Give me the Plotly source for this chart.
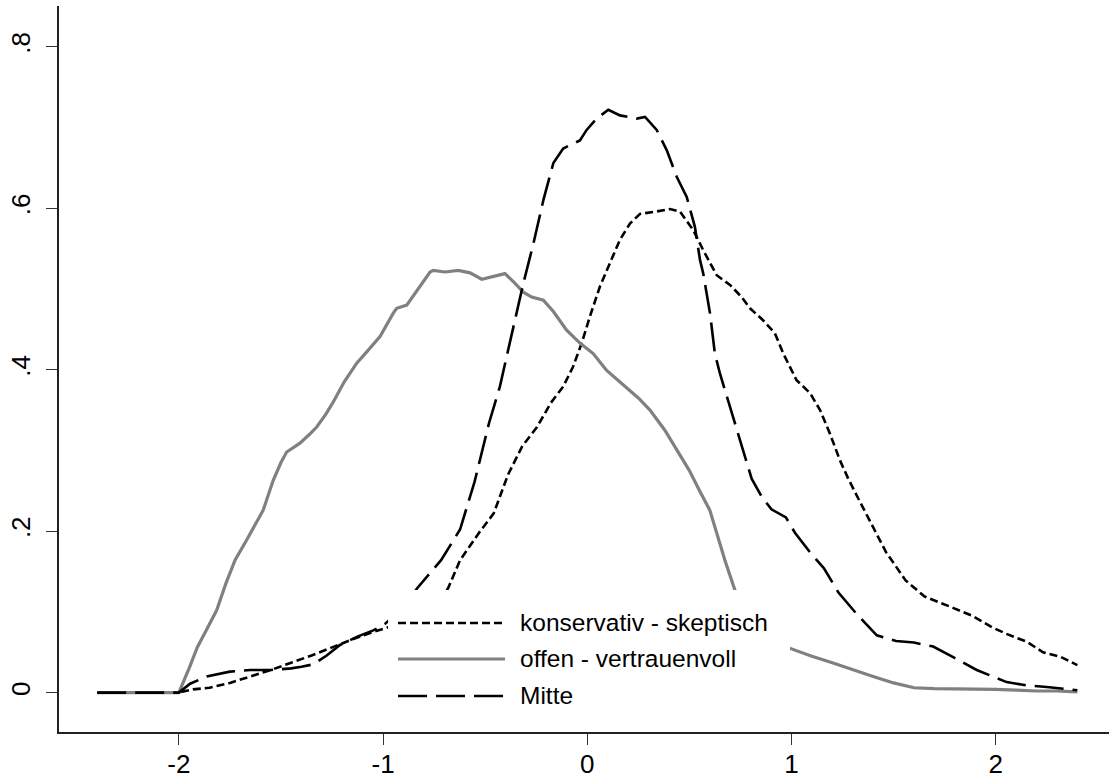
import plotly.graph_objects as go

# ---- data (x, density) ----
kons_x = [-2.4, -2.0, -1.93, -1.85, -1.75, -1.65, -1.55, -1.45, -1.35, -1.25, -1.15, -1.05, -0.95,
          -0.85, -0.75, -0.682, -0.623, -0.53, -0.458, -0.388, -0.319, -0.246, -0.178, -0.118, -0.069,
          -0.027, 0.013, 0.062, 0.111, 0.16, 0.209, 0.258, 0.34, 0.405, 0.454, 0.519, 0.568, 0.634,
          0.699, 0.756, 0.797, 0.862, 0.919, 0.96, 1.025, 1.091, 1.14, 1.188, 1.237, 1.278, 1.324,
          1.394, 1.463, 1.559, 1.652, 1.791, 1.887, 1.982, 2.05, 2.152, 2.232, 2.32, 2.4]
kons_y = [0.0, 0.0, 0.004, 0.006, 0.012, 0.02, 0.028, 0.037, 0.046, 0.056, 0.066, 0.075, 0.083,
          0.093, 0.11, 0.129, 0.164, 0.198, 0.222, 0.27, 0.305, 0.329, 0.359, 0.379, 0.404,
          0.433, 0.466, 0.503, 0.532, 0.561, 0.581, 0.593, 0.596, 0.599, 0.596, 0.573, 0.548, 0.517,
          0.505, 0.49, 0.476, 0.461, 0.445, 0.42, 0.387, 0.371, 0.35, 0.321, 0.288, 0.265, 0.242,
          0.208, 0.174, 0.139, 0.119, 0.105, 0.095, 0.081, 0.073, 0.063, 0.05, 0.044, 0.034]

offen_x = [-2.4, -2.0, -1.95, -1.91, -1.86, -1.815, -1.77, -1.725, -1.668, -1.62, -1.587, -1.538,
           -1.5, -1.472, -1.44, -1.407, -1.36, -1.325, -1.28, -1.244, -1.19, -1.129, -1.08, -1.048,
           -1.015, -0.95, -0.933, -0.884, -0.819, -0.77, -0.754, -0.697, -0.632, -0.574, -0.517,
           -0.46, -0.403, -0.362, -0.313, -0.272, -0.215, -0.166, -0.101, -0.036, 0.029, 0.095,
           0.185, 0.25, 0.307, 0.38, 0.44, 0.5, 0.55, 0.6, 0.674, 0.723, 0.8, 0.9, 0.98, 1.1, 1.2,
           1.3, 1.4, 1.5, 1.6, 1.7, 1.8, 1.9, 2.0, 2.1, 2.2, 2.3, 2.4]
offen_y = [0.0, 0.0, 0.03, 0.056, 0.08, 0.102, 0.135, 0.164, 0.189, 0.21, 0.226, 0.263,
           0.285, 0.298, 0.304, 0.309, 0.32, 0.329, 0.345, 0.36, 0.385, 0.408, 0.422, 0.432,
           0.441, 0.47, 0.476, 0.48, 0.503, 0.521, 0.523, 0.521, 0.523, 0.52, 0.512,
           0.516, 0.519, 0.509, 0.496, 0.49, 0.486, 0.472, 0.449, 0.433, 0.42, 0.399,
           0.379, 0.365, 0.35, 0.325, 0.3, 0.275, 0.25, 0.226, 0.164, 0.127, 0.092, 0.066, 0.056,
           0.045, 0.037, 0.028, 0.02, 0.012, 0.006, 0.005, 0.005, 0.005, 0.004, 0.003, 0.002, 0.002,
           0.001]

mitte_x = [-2.4, -2.0, -1.945, -1.864, -1.75, -1.65, -1.55, -1.45, -1.4, -1.342, -1.276, -1.211,
           -1.129, -1.048, -0.991, -0.9, -0.834, -0.716, -0.623, -0.552, -0.481, -0.428, -0.395,
           -0.354, -0.313, -0.264, -0.215, -0.166, -0.118, -0.036, -0.003, 0.046, 0.103, 0.16,
           0.242, 0.283, 0.34, 0.389, 0.438, 0.487, 0.527, 0.552, 0.568, 0.601, 0.625, 0.65, 0.699,
           0.739, 0.781, 0.805, 0.856, 0.902, 0.973, 1.017, 1.09, 1.159, 1.23, 1.324, 1.418, 1.512,
           1.6, 1.694, 1.792, 1.907, 2.054, 2.15, 2.25, 2.4]
mitte_y = [0.0, 0.0, 0.011, 0.02, 0.026, 0.028, 0.028, 0.03, 0.032, 0.035, 0.046, 0.059,
           0.069, 0.077, 0.085, 0.105, 0.129, 0.164, 0.202, 0.261, 0.334, 0.379, 0.416,
           0.461, 0.507, 0.556, 0.61, 0.656, 0.674, 0.684, 0.697, 0.711, 0.722, 0.715,
           0.711, 0.713, 0.697, 0.672, 0.639, 0.614, 0.577, 0.536, 0.519, 0.47, 0.42, 0.395, 0.354,
           0.321, 0.288, 0.265, 0.242, 0.227, 0.217, 0.198, 0.174, 0.154, 0.124, 0.096, 0.071, 0.064,
           0.062, 0.057, 0.044, 0.028, 0.013, 0.009, 0.007, 0.003]

series_names = ["konservativ - skeptisch", "offen - vertrauenvoll", "Mitte"]
x_ticks = [-2, -1, 0, 1, 2]
x_ticktext = ["-2", "-1", "0", "1", "2"]
y_ticks = [0, 0.2, 0.4, 0.6, 0.8]
y_ticktext = ["0", ".2", ".4", ".6", ".8"]

# ---- styles ----
FONT = "Liberation Sans, Arial, sans-serif"
TICK_SIZE = 26
LEG_SIZE = 24.5
styles = [
    dict(color="black", width=2.6, dash="8px,4px"),
    dict(color="#808080", width=3.2, dash="solid"),
    dict(color="black", width=2.6, dash="29px,9px"),
]

fig = go.Figure()
for xs, ys, name, st in zip([kons_x, offen_x, mitte_x], [kons_y, offen_y, mitte_y],
                            series_names, styles):
    fig.add_trace(go.Scatter(x=xs, y=ys, mode="lines", name=name, line=st,
                             showlegend=False, hoverinfo="skip"))

# ---- manual legend (white box over the curves, long line samples) ----
L, R, T, B = 59, 0, 6, 47
W, H = 1109, 779
pw, ph = W - L - R, H - T - B


def px(xp):
    return (xp - L) / pw


def py(yp):
    return (H - B - yp) / ph


shapes = [dict(type="rect", xref="paper", yref="paper", layer="above",
               x0=px(388), x1=px(790), y0=py(716), y1=py(590),
               fillcolor="white", line=dict(width=0))]
annotations = []
rows = [623, 659, 696]
for name, st, yr in zip(series_names, styles, rows):
    shapes.append(dict(type="line", xref="paper", yref="paper", layer="above",
                       x0=px(398), x1=px(505), y0=py(yr), y1=py(yr),
                       line=dict(color=st["color"], width=st["width"], dash=st["dash"])))
    annotations.append(dict(xref="paper", yref="paper", x=px(518), y=py(yr - 1),
                            xanchor="left", yanchor="middle", showarrow=False,
                            text=name, font=dict(family=FONT, size=LEG_SIZE, color="black")))

fig.update_layout(
    width=W, height=H,
    margin=dict(l=L, r=R, t=T, b=B, pad=0, autoexpand=False),
    paper_bgcolor="white", plot_bgcolor="white",
    font=dict(family=FONT, size=TICK_SIZE, color="black"),
    shapes=shapes, annotations=annotations,
    showlegend=False,
)
fig.update_xaxes(range=[-2.587, 2.555], tickvals=x_ticks, ticktext=x_ticktext,
                 showgrid=False, zeroline=False, showline=True, linecolor="#222",
                 linewidth=1.5, ticks="outside", ticklen=11, tickwidth=1.3,
                 tickcolor="#333", automargin=False, ticklabelstandoff=-3,
                 tickfont=dict(family=FONT, size=TICK_SIZE, color="black"))
fig.update_yaxes(range=[-0.0488, 0.8505], tickvals=y_ticks, ticktext=y_ticktext,
                 showgrid=False, zeroline=False, showline=True, linecolor="#222",
                 linewidth=1.5, ticks="outside", ticklen=11, tickwidth=1.3,
                 tickcolor="#333", tickangle=-90, automargin=False,
                 ticklabelstandoff=6,
                 tickfont=dict(family=FONT, size=TICK_SIZE, color="black"))

fig.write_html("out.html", config={"displayModeBar": False},
               post_script="document.body.style.margin='0px';document.body.style.overflow='hidden';")
